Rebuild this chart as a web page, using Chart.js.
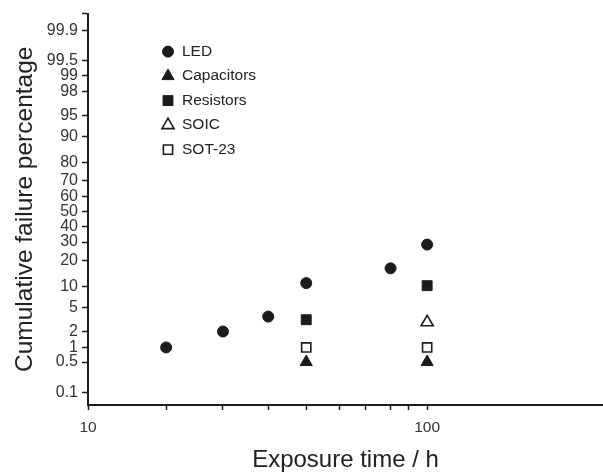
<!DOCTYPE html>
<html>
<head>
<meta charset="utf-8">
<script src="https://cdn.jsdelivr.net/npm/chart.js@4.4.0/dist/chart.umd.min.js"></script>
<style>
  html, body { margin: 0; padding: 0; background: #fff; }
  #wrap { width: 603px; height: 472px; }
</style>
</head>
<body>
<div id="wrap"><canvas id="failChart"></canvas></div>
<script>
// exposure time (h) and cumulative failure (%) for each component family
const ledHours = [17, 25, 34, 44, 78, 100];
const ledFail = [1, 2, 3.6, 11, 16.5, 28.5];
const capHours = [44, 100];
const capFail = [0.5, 0.5];
const resHours = [44, 100];
const resFail = [3.2, 10.2];
const soicHours = [100];
const soicFail = [2.9];
const sotHours = [44, 100];
const sotFail = [1, 1];

// probability-paper ticks
const yTickPercents = [0.1, 0.5, 1, 2, 5, 10, 20, 30, 40, 50, 60, 70, 80, 90, 95, 98, 99, 99.5, 99.9];
const xTickHours = [10, 17, 25, 34, 44, 55, 66, 78, 88, 100];
const xLabelHours = [10, 100];

const INK = "#1c1c1c";
const FONT = "'Liberation Sans', Arial, Helvetica, sans-serif";

// inverse normal CDF (Acklam), used to put percentages on a probit axis
function probit(p) {
    const a = [-39.69683028665376, 220.9460984245205, -275.9285104469687, 138.3577518672690, -30.66479806614716, 2.506628277459239];
    const b = [-54.47609879822406, 161.5858368580409, -155.6989798598866, 66.80131188771972, -13.28068155288572];
    const c = [-0.007784894002430293, -0.3223964580411365, -2.400758277161838, -2.549732539343734, 4.374664141464968, 2.938163982698783];
    const d = [0.007784695709041462, 0.3224671290700398, 2.445134137142996, 3.754408661907416];
    const plow = 0.02425;
    let q, r;
    if (p < plow) {
        q = Math.sqrt(-2 * Math.log(p));
        return (((((c[0] * q + c[1]) * q + c[2]) * q + c[3]) * q + c[4]) * q + c[5]) /
            ((((d[0] * q + d[1]) * q + d[2]) * q + d[3]) * q + 1);
    }
    if (p > 1 - plow) {
        q = Math.sqrt(-2 * Math.log(1 - p));
        return -(((((c[0] * q + c[1]) * q + c[2]) * q + c[3]) * q + c[4]) * q + c[5]) /
            ((((d[0] * q + d[1]) * q + d[2]) * q + d[3]) * q + 1);
    }
    q = p - 0.5;
    r = q * q;
    return (((((a[0] * r + a[1]) * r + a[2]) * r + a[3]) * r + a[4]) * r + a[5]) * q /
        (((((b[0] * r + b[1]) * r + b[2]) * r + b[3]) * r + b[4]) * r + 1);
}

const toPoints = (hours, fail) => hours.map((h, i) => ({ x: h, y: probit(fail[i] / 100) }));

const datasets = [
    { label: "LED", data: toPoints(ledHours, ledFail), pointStyle: "circle", pointRadius: 5.5,
      backgroundColor: INK, borderColor: INK, borderWidth: 1 },
    { label: "Capacitors", data: toPoints(capHours, capFail), pointStyle: "triangle", pointRadius: 7,
      backgroundColor: INK, borderColor: INK, borderWidth: 1 },
    { label: "Resistors", data: toPoints(resHours, resFail), pointStyle: "rect", pointRadius: 7,
      backgroundColor: INK, borderColor: INK, borderWidth: 1 },
    { label: "SOIC", data: toPoints(soicHours, soicFail), pointStyle: "triangle", pointRadius: 7,
      backgroundColor: "#fff", borderColor: INK, borderWidth: 1.6 },
    { label: "SOT-23", data: toPoints(sotHours, sotFail), pointStyle: "rect", pointRadius: 6.5,
      backgroundColor: "#fff", borderColor: INK, borderWidth: 1.6 },
];

// key drawn inside the plot, top-left
const markerKey = {
    id: "markerKey",
    afterDraw(chart) {
        const { ctx, chartArea } = chart;
        const mx = chartArea.left + 80;
        const tx = chartArea.left + 94;
        ctx.save();
        ctx.font = "15.5px " + FONT;
        ctx.textBaseline = "middle";
        ctx.textAlign = "left";
        chart.data.datasets.forEach((ds, i) => {
            const y = chartArea.top + 38 + i * 24.5;
            ctx.fillStyle = ds.backgroundColor;
            ctx.strokeStyle = ds.borderColor;
            ctx.lineWidth = ds.borderWidth;
            Chart.helpers.drawPoint(ctx, {
                pointStyle: ds.pointStyle,
                radius: ds.pointRadius,
                rotation: 0,
                borderWidth: ds.borderWidth,
            }, mx, y);
            ctx.fillStyle = "#222";
            ctx.fillText(ds.label, tx, y);
        });
        ctx.restore();
    },
};

new Chart(document.getElementById("failChart"), {
    type: "scatter",
    data: { datasets },
    options: {
        responsive: true,
        maintainAspectRatio: false,
        animation: false,
        layout: { autoPadding: false, padding: { top: 12, right: 0, bottom: 0, left: 0 } },
        plugins: {
            legend: { display: false },
            tooltip: { enabled: false },
        },
        scales: {
            x: {
                type: "logarithmic",
                min: 10,
                max: 330,
                afterBuildTicks: (scale) => {
                    scale.ticks = xTickHours.map((v) => ({ value: v }));
                },
                afterFit: (scale) => { scale.height = 67; },
                ticks: {
                    autoSkip: false,
                    maxRotation: 0,
                    padding: 8,
                    color: "#333",
                    font: { family: FONT, size: 15.5 },
                    callback: (v) => (xLabelHours.includes(v) ? String(v) : ""),
                },
                grid: { drawOnChartArea: false, drawTicks: true, tickLength: 5, tickWidth: 1.5, tickColor: INK },
                border: { display: true, color: INK, width: 2 },
                title: {
                    display: true,
                    text: "Exposure time / h",
                    color: "#222",
                    font: { family: FONT, size: 24, lineHeight: 1 },
                    padding: { top: 0, bottom: 0 },
                },
            },
            y: {
                type: "linear",
                min: -3.31,
                max: 3.38,
                afterBuildTicks: (scale) => {
                    const ticks = yTickPercents.map((p) => ({ value: probit(p / 100) }));
                    ticks.push({ value: scale.max });
                    scale.ticks = ticks;
                },
                afterFit: (scale) => { scale.width = 88; },
                ticks: {
                    autoSkip: false,
                    padding: 4,
                    color: "#333",
                    font: { family: FONT, size: 16 },
                    callback: (v, i) => (i < yTickPercents.length ? String(yTickPercents[i]) : ""),
                },
                grid: { drawOnChartArea: false, drawTicks: true, tickLength: 6, tickWidth: 1.5, tickColor: INK },
                border: { display: true, color: INK, width: 2 },
                title: {
                    display: true,
                    text: "Cumulative failure percentage",
                    color: "#222",
                    font: { family: FONT, size: 24.5, lineHeight: 1 },
                    padding: { top: 13, bottom: 0 },
                },
            },
        },
    },
    plugins: [markerKey],
});
</script>
</body>
</html>
